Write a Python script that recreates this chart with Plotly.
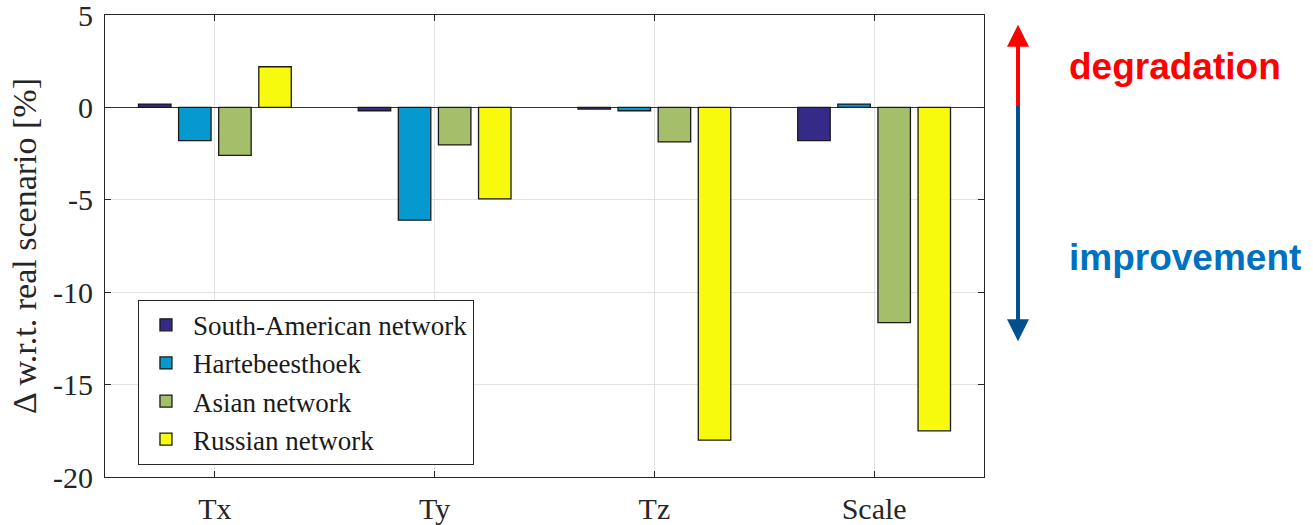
import plotly.graph_objects as go

# Components of the transformation parameters
categories = ["Tx", "Ty", "Tz", "Scale"]

# Change with respect to the real scenario [%] for each network
south_american = [0.18, -0.18, -0.09, -1.8]
hartebeesthoek = [-1.8, -6.1, -0.18, 0.18]
asian = [-2.6, -2.03, -1.87, -11.65]
russian = [2.2, -4.95, -18.0, -17.5]

series = [
    ("South-American network", south_american, "#352a87"),
    ("Hartebeesthoek", hartebeesthoek, "#0599cf"),
    ("Asian network", asian, "#a5be6a"),
    ("Russian network", russian, "#f8fa0d"),
]

y_ticks = [5, 0, -5, -10, -15, -20]

serif = "Liberation Serif"
ink = "#262626"

fig = go.Figure()
for name, vals, color in series:
    fig.add_trace(go.Bar(
        x=categories, y=vals, name=name,
        marker=dict(color=color, line=dict(color="#1a1a1a", width=1.3)),
    ))

fig.update_layout(
    width=1313, height=525,
    margin=dict(l=105, r=329, t=15, b=48),
    paper_bgcolor="white", plot_bgcolor="white",
    barmode="group", bargap=0.27, bargroupgap=0.19,
    font=dict(family=serif, color=ink, size=27),
    showlegend=True,
    legend=dict(
        x=0.0375, y=0.205, xanchor="left", yanchor="middle",
        bgcolor="white", bordercolor=ink, borderwidth=1,
        font=dict(family=serif, size=27, color="#1a1a1a"),
        tracegroupgap=0, itemwidth=44,
    ),
)

fig.update_xaxes(
    range=[-0.5, 3.5], automargin=False,
    showline=True, mirror="allticks", linecolor=ink, linewidth=1,
    ticks="inside", ticklen=6, tickcolor=ink, showgrid=True, gridcolor="#e3e3e3",
    tickfont=dict(family=serif, size=30, color=ink), ticklabelstandoff=5,
)
fig.update_yaxes(
    range=[-20, 5], automargin=False, tickvals=y_ticks, ticktext=[str(v) for v in y_ticks],
    showline=True, mirror="allticks", linecolor=ink, linewidth=1,
    ticks="inside", ticklen=6, tickcolor=ink, showgrid=True, gridcolor="#e3e3e3",
    zeroline=True, zerolinecolor="#333333", zerolinewidth=1.3,
    tickfont=dict(family=serif, size=30, color=ink), ticklabelstandoff=5,
    ticklabeloverflow="allow",
    title=dict(text="\u0394 w.r.t. real scenario [%]", font=dict(family=serif, size=34, color=ink), standoff=6),
)

# Direction indicator to the right of the axes
arrow_x = 1.0387
fig.add_annotation(
    x=arrow_x, y=4.47, xref="paper", yref="y", ax=0, ay=87, axref="pixel", ayref="pixel",
    text="", showarrow=True, arrowhead=2, arrowsize=1.1, arrowwidth=4, arrowcolor="#ff0000",
)
fig.add_annotation(
    x=arrow_x, y=-12.65, xref="paper", yref="y", ax=0, ay=-237, axref="pixel", ayref="pixel",
    text="", showarrow=True, arrowhead=2, arrowsize=1.1, arrowwidth=4, arrowcolor="#00508f",
)
fig.add_annotation(
    x=1.094, y=2.2, xref="paper", yref="y", xanchor="left", yanchor="middle",
    text="<b>degradation</b>", showarrow=False,
    font=dict(family="Liberation Sans", size=37, color="#ff0000"),
)
fig.add_annotation(
    x=1.094, y=-8.1, xref="paper", yref="y", xanchor="left", yanchor="middle",
    text="<b>improvement</b>", showarrow=False,
    font=dict(family="Liberation Sans", size=37, color="#0070c0"),
)

fig.write_html("out.html")
